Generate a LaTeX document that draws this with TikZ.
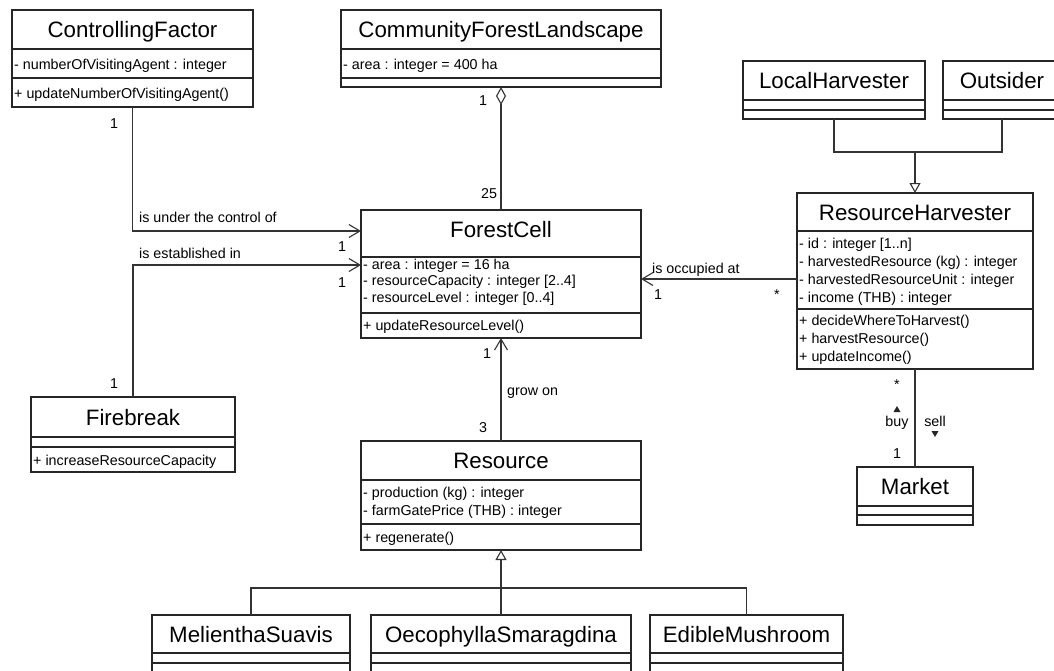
\documentclass[tikz,border=0pt]{standalone}
\usepackage{fontspec}
\setmainfont{Liberation Sans}
\usetikzlibrary{arrows.meta}

\tikzset{
  frame/.style={draw=black!85, line width=1.3pt, inner sep=0pt, outer sep=0pt, anchor=north west},
  rule/.style={draw=black!85, line width=1.1pt},
  ctitle/.style={inner sep=0pt, anchor=base, font=\fontsize{22.3}{26}\selectfont},
  member/.style={inner sep=0pt, anchor=base west, font=\fontsize{14.3}{17}\selectfont},
  lbl/.style={inner sep=0pt, anchor=base, font=\fontsize{14.3}{17}\selectfont},
  lblw/.style={lbl, anchor=base west},
  link/.style={draw=black!80, line width=1.1pt},
  nav/.style={link, -{Straight Barb[length=11pt,width=13pt,line width=1.1pt]}},
  gen/.style={link, -{Triangle[open,length=10pt,width=11pt,fill=white,line width=1.1pt]}},
  agg/.style={link, {Diamond[open,length=18pt,width=10pt,fill=white,line width=1.1pt]}-},
}

% class box: name, x1, y1, x2, y2, first rule, second rule, title centre, title
\newcommand{\umlbox}[9]{%
  \node[frame, minimum width={#4pt-#2pt}, minimum height={#5pt-#3pt}] (#1) at (#2,#3) {};
  \draw[rule] (#2,#6) -- (#4,#6);
  \draw[rule] (#2,#7) -- (#4,#7);
  \node[ctitle] (#1-title) at ({(#2+#4)/2},{#8+8}) {#9};
}
% one member line: name, x, centre y, text
\newcommand{\member}[4]{\node[member] (#1) at (#2,{#3+5}) {#4};}
% a label centred on a point
\newcommand{\tag}[4]{\node[lbl] (#1) at (#2,{#3+5}) {#4};}

\begin{document}
\begin{tikzpicture}[x=1pt,y=-1pt]
\useasboundingbox (0,0) rectangle (1054,670);
\fill[white] (0,0) rectangle (1054,670);
\clip (0,0) rectangle (1054,670);

% ---- classes ----
\umlbox{cf}{12}{10}{253}{107}{49}{78}{29.5}{ControllingFactor}
\member{cf-a1}{14}{64}{- numberOfVisitingAgent : integer}
\member{cf-m1}{14}{93}{+ updateNumberOfVisitingAgent()}

\umlbox{cfl}{341}{10}{661}{87}{49}{78}{29.5}{CommunityForestLandscape}
\member{cfl-a1}{343}{64}{- area : integer = 400 ha}

\umlbox{lh}{743}{61}{925}{119}{100}{110}{80.5}{LocalHarvester}
\umlbox{ot}{943}{61}{1061}{119}{100}{110}{80.5}{Outsider}

\umlbox{rh}{797}{193}{1033}{369}{231}{309}{212}{ResourceHarvester}
\member{rh-a1}{799}{243}{- id : integer [1..n]}
\member{rh-a2}{799}{261}{- harvestedResource (kg) : integer}
\member{rh-a3}{799}{279}{- harvestedResourceUnit : integer}
\member{rh-a4}{799}{297}{- income (THB) : integer}
\member{rh-m1}{799}{320}{+ decideWhereToHarvest()}
\member{rh-m2}{799}{338}{+ harvestResource()}
\member{rh-m3}{799}{356}{+ updateIncome()}

\umlbox{fc}{361}{210}{641}{338}{257}{313}{229}{ForestCell}
\member{fc-a1}{363}{264}{- area : integer = 16 ha}
\member{fc-a2}{363}{280}{- resourceCapacity : integer [2..4]}
\member{fc-a3}{363}{297}{- resourceLevel : integer [0..4]}
\member{fc-m1}{363}{325}{+ updateResourceLevel()}

\umlbox{fb}{31}{397}{235}{472}{437}{447}{417}{Firebreak}
\member{fb-m1}{33}{460}{+ increaseResourceCapacity}

\umlbox{res}{361}{441}{641}{550}{480}{524}{460.5}{Resource}
\member{res-a1}{363}{492}{- production (kg) : integer}
\member{res-a2}{363}{510}{- farmGatePrice (THB) : integer}
\member{res-m1}{363}{537}{+ regenerate()}

\umlbox{mk}{857}{467}{973}{525}{506}{515}{486.5}{Market}

\umlbox{mel}{152}{615}{350}{700}{653}{663}{634}{MelienthaSuavis}
\umlbox{oe}{371}{615}{631}{700}{653}{663}{634}{OecophyllaSmaragdina}
\umlbox{ed}{650}{615}{843}{700}{653}{663}{634}{EdibleMushroom}

% ---- associations ----
\coordinate (fcin1) at (361,231);
\draw[nav] (cf.south) |- (fcin1);
\node[lblw] (l-ctrl) at (139,222) {is under the control of};
\tag{m-cf}{114}{123}{1}
\tag{m-fc1}{342}{246}{1}

\coordinate (fcin2) at (361,265);
\draw[nav] (fb.north) |- (fcin2);
\node[lblw] (l-est) at (139,258) {is established in};
\tag{m-fc2}{342}{282}{1}
\tag{m-fb}{114}{383}{1}

\coordinate (rhout) at (797,279);
\coordinate (fcin3) at (641,279);
\draw[nav] (rhout) -- (fcin3);
\node[lblw] (l-occ) at (652,273) {is occupied at};
\tag{m-fc3}{658}{294}{1}
\tag{m-rh}{777}{294}{*}

\draw[nav] (res.north) -- (fc.south);
\node[lblw] (l-grow) at (507,395) {grow on};
\tag{m-fc4}{487}{353}{1}
\tag{m-res}{483}{427}{3}

\draw[agg] (cfl.south) -- (fc.north);
\tag{m-cfl}{483}{100}{1}
\tag{m-fc5}{489}{193}{25}

\draw[link] (rh.south) -- (mk.north);
\tag{m-rh2}{897}{384}{*}
\tag{l-buy}{897}{421}{buy}
\tag{l-sell}{935}{421}{sell}
\tag{m-mk}{897}{453}{1}
\fill[black!85] (893.5,412) -- (900.5,412) -- (897,406) -- cycle;
\fill[black!85] (931.5,431) -- (938.5,431) -- (935,437) -- cycle;

% ---- generalisations ----
\coordinate (hj) at (915,152);
\draw[link] (lh.south) |- (hj);
\draw[link] (ot.south) |- (hj);
\draw[gen] (hj) -- (rh.north);

\coordinate (rj) at (501,588);
\draw[link] (mel.north) |- (rj);
\draw[link] (ed.north) |- (rj);
\draw[gen] (oe.north) -- (res.south);
\end{tikzpicture}
\end{document}
